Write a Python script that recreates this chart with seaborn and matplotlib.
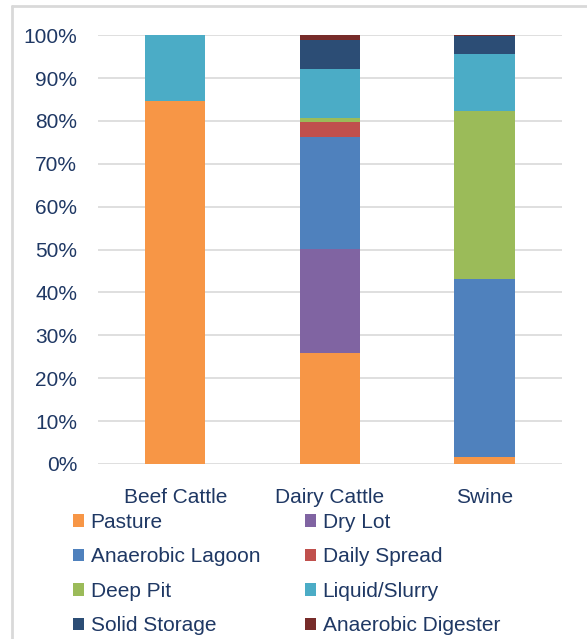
import numpy as np
import matplotlib
matplotlib.use('Agg')
import matplotlib.pyplot as plt
from matplotlib.lines import Line2D
from matplotlib.patches import Patch
import seaborn as sns

categories = ["Beef Cattle", "Dairy Cattle", "Swine"]
systems = ["Pasture", "Dry Lot", "Anaerobic Lagoon", "Daily Spread",
           "Deep Pit", "Liquid/Slurry", "Solid Storage", "Anaerobic Digester"]
# share of manure (fraction) per category, one list per system
pasture = [0.846, 0.259, 0.017]
dry_lot = [0.0, 0.242, 0.0]
anaerobic_lagoon = [0.0, 0.261, 0.414]
daily_spread = [0.0, 0.036, 0.0]
deep_pit = [0.0, 0.008, 0.393]
liquid_slurry = [0.154, 0.115, 0.132]
solid_storage = [0.0, 0.067, 0.041]
anaerobic_digester = [0.0, 0.012, 0.003]

colors = ["#F79646", "#8064A2", "#4F81BD", "#C0504D",
          "#9BBB59", "#4BACC6", "#2C4D75", "#772C2A"]
text_color = "#1F3864"

sns.set_style("white")
plt.rcParams['font.family'] = ['Liberation Sans', 'DejaVu Sans']

fig = plt.figure(figsize=(5.87, 6.39), dpi=100)
ax = fig.add_axes([0.167, 0.274, 0.790, 0.671])

series = [pasture, dry_lot, anaerobic_lagoon, daily_spread,
          deep_pit, liquid_slurry, solid_storage, anaerobic_digester]
bottom = np.zeros(len(categories))
for vals, c in zip(series, colors):
    sns.barplot(x=categories, y=vals, bottom=bottom, color=c, width=0.39,
                saturation=1, ax=ax, zorder=3, linewidth=0)
    bottom = bottom + np.array(vals)

ax.set_ylim(0, 1)
ax.set_yticks(np.arange(0, 1.01, 0.1))
ax.set_yticklabels(["%d%%" % v for v in range(0, 101, 10)])
ax.yaxis.grid(True, color="#D9D9D9", linewidth=1.2, zorder=0)
ax.xaxis.grid(False)
for s in ax.spines.values():
    s.set_visible(False)
ax.tick_params(axis='y', length=0, pad=15, labelsize=15, labelcolor=text_color)
ax.tick_params(axis='x', length=0, pad=17, labelsize=15, labelcolor=text_color)
ax.set_xlabel("")
ax.set_ylabel("")

# legend in two columns (row-wise order)
handles = [Patch(facecolor=c, edgecolor='none') for c in colors]
common = dict(frameon=False, fontsize=15, labelcolor=text_color,
              handlelength=0.55, handleheight=0.55, handletextpad=0.3,
              labelspacing=0.74, borderpad=0, borderaxespad=0)
fig.legend(handles[0::2], systems[0::2], loc='upper left',
           bbox_to_anchor=(73 / 587, 1 - 513 / 639), **common)
fig.legend(handles[1::2], systems[1::2], loc='upper left',
           bbox_to_anchor=(305 / 587, 1 - 513 / 639), **common)

# light chart frame (top and left edge)
fig.add_artist(Line2D([12 / 587, 1], [1 - 6 / 639, 1 - 6 / 639],
                      color="#D9D9D9", linewidth=2, transform=fig.transFigure))
fig.add_artist(Line2D([12 / 587, 12 / 587], [0, 1 - 6 / 639],
                      color="#D9D9D9", linewidth=2, transform=fig.transFigure))

fig.savefig("out.png", dpi=100)
